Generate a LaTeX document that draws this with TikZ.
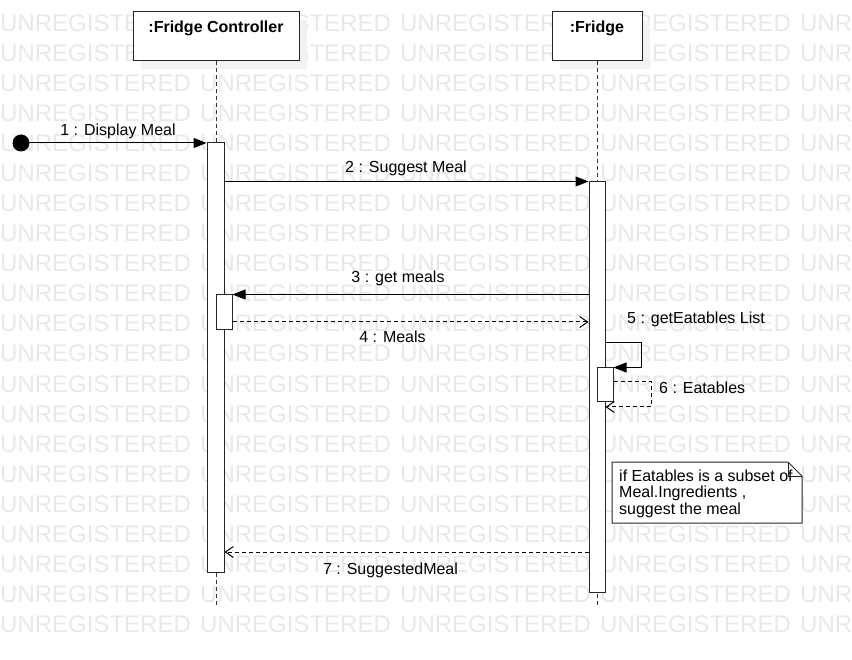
\documentclass[tikz,border=0pt]{standalone}
\usepackage{fontspec}
\setmainfont{Liberation Sans}
\usetikzlibrary{arrows.meta,calc}
\tikzset{
  wm/.style={anchor=base west, text=black!9, inner sep=0pt, font=\fontsize{24}{28}\selectfont},
  lbl/.style={inner sep=0pt, font=\fontsize{16}{19}\selectfont},
  head/.style={draw=black!85, fill=white, line width=1pt, inner sep=0pt},
  headtxt/.style={anchor=base, inner sep=0pt, font=\fontsize{16}{19}\selectfont\bfseries},
  shadowbox/.style={fill=black!5, draw=none},
  lifeline/.style={draw=black!80, line width=1pt, dash pattern=on 4pt off 3pt},
  act/.style={draw=black!85, fill=white, line width=1pt, inner sep=0pt, minimum width=16pt},
  call/.style={draw=black, line width=1pt, -{Triangle[length=13pt,width=10pt]}},
  reply/.style={draw=black, line width=1pt, dash pattern=on 4pt off 3pt, -{Straight Barb[length=8pt,width=11pt]}},
  notebox/.style={draw=black!85, fill=white, line width=1pt},
}
\begin{document}
\begin{tikzpicture}[x=1pt,y=-1pt]
\useasboundingbox (0,0) rectangle (852,660);
\clip (0,0) rectangle (852,660);
% watermark
\foreach \r in {0,...,20}
  \foreach \c in {0,200,400,600,800}
    \node[wm] at (\c,{32+30*\r}) {UNREGISTERED};
% shadows of heads
\fill[shadowbox] (141,20) rectangle (307,69);
\fill[shadowbox] (560,20) rectangle (650,69);
% heads
\node[head, minimum width=166pt, minimum height=49pt] (h1) at (216,36.5) {};
\node[headtxt] (h1t) at (216,33) {:Fridge Controller};
\node[head, minimum width=90pt, minimum height=49pt] (h2) at (597,36.5) {};
\node[headtxt] (h2t) at (597,33) {:Fridge};
% lifelines
\coordinate (e1) at (216,605);
\coordinate (e2) at (597,605);
\draw[lifeline] (h1.south) -- (e1);
\draw[lifeline] (h2.south) -- (e2);
% activations
\node[act, minimum width=17pt, minimum height=429pt] (a1) at (215.5,357.5) {};
\node[act, minimum height=410pt] (a2) at (597,387) {};
\node[act, minimum height=35pt] (a3) at (224,312.5) {};
\node[act, minimum height=34pt] (a5) at (605,385) {};
% note
\draw[notebox] (612,462) -- (788,462) -- (802,476) -- (802,523) -- (612,523) -- cycle;
\draw[draw=black!85, line width=1pt] (788,462) -- (788,476) -- (802,476);
\node[lbl, anchor=base west] (n1) at (619,481) {if Eatables is a subset of};
\node[lbl, anchor=base west] (n2) at (619,497.5) {Meal.Ingredients ,};
\node[lbl, anchor=base west] (n3) at (619,514) {suggest the meal};
% start dot
\node[circle, fill=black, minimum size=17pt, inner sep=0pt] (start) at (21,143) {};
% messages
\draw[call] (start.center) -- (start.center -| a1.west);
\node[lbl, anchor=base] (l1) at (118,136) {1 : Display Meal};
\draw[call] (a2.north west -| a1.east) -- (a2.north west);
\node[lbl, anchor=base] (l2) at (406,173) {2 : Suggest Meal};
\draw[call] (a3.north east -| a2.west) -- (a3.north east);
\node[lbl, anchor=base] (l3) at (398,283) {3 : get meals};
\coordinate (m4) at (0,322);
\draw[reply] (m4 -| a3.east) -- (m4 -| a2.west);
\node[lbl, anchor=base] (l4) at (392.5,343) {4 : Meals};
\coordinate (s5) at (641,343);
\draw[call] (s5 -| a2.east) -- (s5) |- (a5.north east);
\node[lbl, anchor=base west] (l5) at (627,324) {5 : getEatables List};
\coordinate (r6) at (651,382);
\coordinate (r6b) at (651,407);
\draw[reply] (r6 -| a5.east) -- (r6) -- (r6b) -- (r6b -| a2.east);
\node[lbl, anchor=base west] (l6) at (659,394) {6 : Eatables};
\coordinate (m7) at (0,552);
\draw[reply] (m7 -| a2.west) -- (m7 -| a1.east);
\node[lbl, anchor=base] (l7) at (390.5,574) {7 : SuggestedMeal};
\end{tikzpicture}
\end{document}
